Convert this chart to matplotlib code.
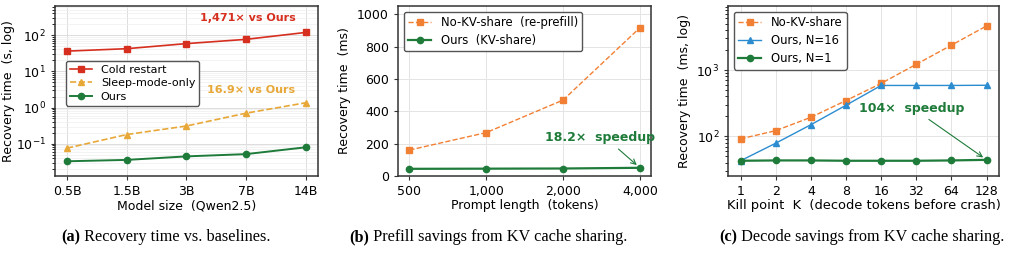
import numpy as np
import matplotlib.pyplot as plt

# (a) recovery time vs model size
models = ['0.5B', '1.5B', '3B', '7B', '14B']
cold_restart = [36, 42, 58, 76, 118]
sleep_only = [0.076, 0.18, 0.31, 0.70, 1.356]
ours_a = [0.033, 0.036, 0.045, 0.052, 0.0802]

# (b) prefill savings
prompt_len = ['500', '1,000', '2,000', '4,000']
no_kv_b = [160, 268, 469, 916]
ours_b = [44, 45, 46, 50.3]

# (c) decode savings
kill_pts = ['1', '2', '4', '8', '16', '32', '64', '128']
no_kv_c = [92, 122, 194, 347, 629, 1220, 2370, 4620]
ours_n16 = [43, 79, 150, 295, 586, 586, 586, 590]
ours_n1 = [43, 43.5, 43.5, 43, 43, 43, 43.5, 44.4]

RED = '#d62f1f'
GOLD = '#e8a838'
GREEN = '#1e7b3a'
ORANGE = '#f28034'
BLUE = '#2b8cd0'

plt.rcParams['font.family'] = 'DejaVu Sans'
plt.rcParams['font.size'] = 9

fig = plt.figure(figsize=(10.1, 2.63), dpi=100)
ax1 = fig.add_axes([0.0545, 0.331, 0.260, 0.646])
ax2 = fig.add_axes([0.394, 0.331, 0.251, 0.646])
ax3 = fig.add_axes([0.721, 0.331, 0.268, 0.646])

for ax in (ax1, ax2, ax3):
    for s in ax.spines.values():
        s.set_color('#333333')
        s.set_linewidth(1.1)
    ax.tick_params(labelsize=9, length=3, color='#333333')

leg_kw = dict(framealpha=1, edgecolor='#555555', handlelength=2.0,
              borderpad=0.35, fancybox=True)

# ---- panel a
x = np.arange(len(models))
ax1.plot(x, cold_restart, '-s', color=RED, lw=1.2, ms=4.5, label='Cold restart')
ax1.plot(x, sleep_only, '--^', color=GOLD, lw=1.2, ms=4.5, label='Sleep-mode-only')
ax1.plot(x, ours_a, '-o', color=GREEN, lw=1.4, ms=4.5, label='Ours')
ax1.set_yscale('log')
ax1.set_ylim(0.013, 630)
ax1.set_xticks(x, models)
ax1.grid(True, which='major', color='#dddddd', lw=0.7)
ax1.grid(True, which='minor', axis='y', color='#eeeeee', lw=0.5)
ax1.set_axisbelow(True)
ax1.set_xlabel('Model size  (Qwen2.5)', fontsize=9, labelpad=1)
ax1.set_ylabel('Recovery time  (s, log)', fontsize=9, labelpad=0.5)
ax1.text(3.83, 300, '1,471\u00d7 vs Ours', color=RED, fontsize=8,
         fontweight='bold', ha='right', va='center')
ax1.text(3.83, 3.1, '16.9\u00d7 vs Ours', color=GOLD, fontsize=8,
         fontweight='bold', ha='right', va='center')
ax1.legend(loc='center left', bbox_to_anchor=(0.02, 0.545), fontsize=8,
           labelspacing=0.3, **leg_kw)

# ---- panel b
x = np.arange(len(prompt_len))
ax2.plot(x, no_kv_b, '--s', color=ORANGE, lw=1.0, ms=4.5,
         label='No-KV-share  (re-prefill)')
ax2.plot(x, ours_b, '-o', color=GREEN, lw=1.6, ms=4.5, label='Ours  (KV-share)')
ax2.set_ylim(0, 1050)
ax2.set_yticks([0, 200, 400, 600, 800, 1000])
ax2.set_xticks(x, prompt_len)
ax2.grid(True, color='#e4e4e4', lw=0.7)
ax2.set_axisbelow(True)
ax2.set_xlabel('Prompt length  (tokens)', fontsize=9, labelpad=1)
ax2.set_ylabel('Recovery time  (ms)', fontsize=9)
ax2.annotate('18.2\u00d7  speedup', xy=(3, ours_b[-1]), xytext=(2.48, 235),
             color=GREEN, fontsize=9, fontweight='bold', ha='center',
             va='center',
             arrowprops=dict(arrowstyle='->', color=GREEN, lw=0.8,
                             relpos=(0.62, 0.0), shrinkA=2, shrinkB=3))
ax2.legend(loc='upper left', fontsize=8.4, labelspacing=0.45, **leg_kw)

# ---- panel c
x = np.arange(len(kill_pts))
ax3.plot(x, no_kv_c, '--s', color=ORANGE, lw=1.0, ms=4.5, label='No-KV-share')
ax3.plot(x, ours_n16, '-^', color=BLUE, lw=1.0, ms=4.5, label='Ours, N=16')
ax3.plot(x, ours_n1, '-o', color=GREEN, lw=1.6, ms=4.5, label='Ours, N=1')
ax3.set_yscale('log')
ax3.set_ylim(25.4, 9200)
ax3.set_xticks(x, kill_pts)
ax3.grid(True, which='major', color='#e4e4e4', lw=0.7)
ax3.set_axisbelow(True)
ax3.set_xlabel('Kill point  K  (decode tokens before crash)', fontsize=9.4,
               labelpad=1)
ax3.set_ylabel('Recovery time  (ms, log)', fontsize=9)
ax3.annotate('104\u00d7  speedup', xy=(7, ours_n1[-1]), xytext=(4.88, 263),
             color=GREEN, fontsize=9, fontweight='bold', ha='center',
             va='center',
             arrowprops=dict(arrowstyle='->', color=GREEN, lw=0.8,
                             relpos=(0.6, 0.0), shrinkA=2, shrinkB=3))
ax3.legend(loc='upper left', fontsize=8.4, labelspacing=0.45, **leg_kw)

# captions, centred under each panel
caps = [(166, '(a)', ' Recovery time vs. baselines.'),
        (488, '(b)', ' Prefill savings from KV cache sharing.'),
        (862, '(c)', ' Decode savings from KV cache sharing.')]
W = fig.bbox.width
for xc, tag, rest in caps:
    t1 = fig.text(0, 0.099, tag, fontsize=11.7, fontweight='bold',
                  family='Liberation Serif', va='center')
    t2 = fig.text(0, 0.099, rest, fontsize=11.7,
                  family='Liberation Serif', va='center')
    fig.canvas.draw()
    w1 = t1.get_window_extent().width
    w2 = t2.get_window_extent().width
    x0 = xc - (w1 + w2) / 2
    t1.set_x(x0 / W)
    t2.set_x((x0 + w1) / W)

fig.savefig('out.png', dpi=100)
